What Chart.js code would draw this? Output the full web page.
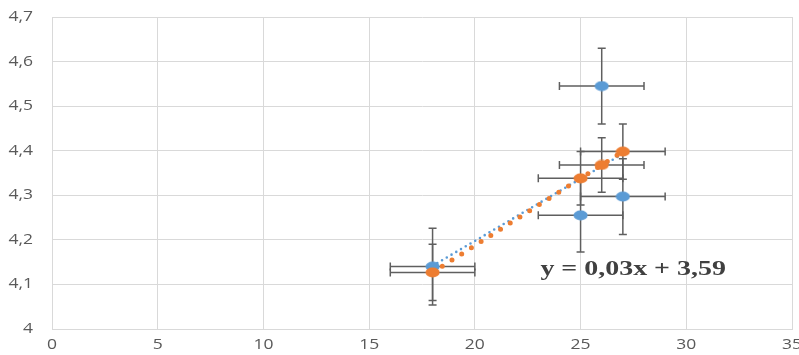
<!DOCTYPE html>
<html>
<head>
<meta charset="utf-8">
<script src="https://cdn.jsdelivr.net/npm/chart.js@4.4.1/dist/chart.umd.min.js"></script>
<style>
  html, body { margin: 0; padding: 0; background: #ffffff; }
  #wrap { width: 799px; height: 355px; position: relative; }
</style>
</head>
<body>
<div id="wrap"><canvas id="c" width="799" height="355"></canvas></div>
<script>
// Measurements: x value, two series of y values, and their error margins
const xValues = [18, 25, 26, 27];
const seriesA = [4.140, 4.255, 4.545, 4.297];   // blue
const seriesB = [4.127, 4.338, 4.368, 4.398];   // orange
const xErr = [2, 2, 2, 2];
const seriesAErr = [0.086, 0.082, 0.085, 0.085];
const seriesBErr = [0.063, 0.060, 0.061, 0.062];

// Axis ticks and their labels
const xTicks = [0, 5, 10, 15, 20, 25, 30, 35];
const xTickLabels = ['0', '5', '10', '15', '20', '25', '30', '35'];
const yTicks = [4, 4.1, 4.2, 4.3, 4.4, 4.5, 4.6, 4.7];
const yTickLabels = ['4', '4,1', '4,2', '4,3', '4,4', '4,5', '4,6', '4,7'];

const equationLabel = 'y = 0,03x + 3,59';

const BLUE = '#5B9BD5';
const ORANGE = '#ED7D31';
const ERR = '#5f5f5f';
const GRID = '#d9d9d9';
const TICK_TEXT = '#595959';
const STRETCH = 1.25;

// Least-squares line through a series, drawn over the range of x
function trend(xs, ys) {
  const n = xs.length;
  const mx = xs.reduce((a, b) => a + b, 0) / n;
  const my = ys.reduce((a, b) => a + b, 0) / n;
  let sxy = 0, sxx = 0;
  for (let i = 0; i < n; i++) { sxy += (xs[i] - mx) * (ys[i] - my); sxx += (xs[i] - mx) ** 2; }
  const k = sxy / sxx, b = my - k * mx;
  const x0 = Math.min(...xs), x1 = Math.max(...xs);
  return [{ x: x0, y: k * x0 + b }, { x: x1, y: k * x1 + b }];
}

// Slightly wide oval marker
function oval(color) {
  const c = document.createElement('canvas');
  c.width = 15; c.height = 11;
  const g = c.getContext('2d');
  g.fillStyle = color;
  g.beginPath();
  g.ellipse(7.5, 5.5, 7, 5, 0, 0, Math.PI * 2);
  g.fill();
  return c;
}

const pts = (ys) => xValues.map((x, i) => ({ x, y: ys[i] }));

// Error bars in both directions, with caps
const errorBars = {
  id: 'errorBars',
  beforeDatasetsDraw(chart) {
    const { ctx, scales: { x, y } } = chart;
    const sets = [[seriesA, seriesAErr], [seriesB, seriesBErr]];
    ctx.save();
    ctx.strokeStyle = ERR;
    ctx.lineWidth = 1.5;
    const cap = 4;
    sets.forEach(([ys, es]) => {
      xValues.forEach((xv, i) => {
        const px = x.getPixelForValue(xv), py = y.getPixelForValue(ys[i]);
        const top = y.getPixelForValue(ys[i] + es[i]);
        const bot = y.getPixelForValue(ys[i] - es[i]);
        const lft = x.getPixelForValue(xv - xErr[i]);
        const rgt = x.getPixelForValue(xv + xErr[i]);
        ctx.beginPath();
        ctx.moveTo(px, top); ctx.lineTo(px, bot);
        ctx.moveTo(px - cap, top); ctx.lineTo(px + cap, top);
        ctx.moveTo(px - cap, bot); ctx.lineTo(px + cap, bot);
        ctx.moveTo(lft, py); ctx.lineTo(rgt, py);
        ctx.moveTo(lft, py - cap); ctx.lineTo(lft, py + cap);
        ctx.moveTo(rgt, py - cap); ctx.lineTo(rgt, py + cap);
        ctx.stroke();
      });
    });
    ctx.restore();
  }
};

function stretchedText(ctx, text, px, py, align, sx) {
  ctx.save();
  ctx.translate(px, py);
  ctx.scale(sx, 1);
  ctx.textAlign = align;
  ctx.fillText(text, 0, 0);
  ctx.restore();
}

// Tick labels and the fitted-line equation
const labels = {
  id: 'labels',
  afterDraw(chart) {
    const { ctx, chartArea, scales: { x, y } } = chart;
    ctx.save();
    ctx.fillStyle = TICK_TEXT;
    ctx.font = '14px "Open Sans", sans-serif';
    ctx.textBaseline = 'middle';
    yTicks.forEach((v, i) => stretchedText(ctx, yTickLabels[i], chartArea.left - 19, y.getPixelForValue(v), 'right', STRETCH));
    xTicks.forEach((v, i) => stretchedText(ctx, xTickLabels[i], x.getPixelForValue(v), chartArea.bottom + 16, 'center', STRETCH));
    ctx.fillStyle = '#404040';
    ctx.font = 'bold 22px "Liberation Serif", "Times New Roman", serif';
    ctx.textBaseline = 'alphabetic';
    stretchedText(ctx, equationLabel, x.getPixelForValue(23.1), y.getPixelForValue(4.121), 'left', 1.27);
    ctx.restore();
  }
};

new Chart(document.getElementById('c'), {
  type: 'scatter',
  data: {
    datasets: [
      { data: pts(seriesB), pointStyle: oval(ORANGE), pointRadius: 6, order: 0 },
      { data: pts(seriesA), pointStyle: oval(BLUE), pointRadius: 6, order: 1 },
      { type: 'line', data: trend(xValues, seriesB), borderColor: ORANGE, borderWidth: 5,
        borderDash: [0, 11.5], borderCapStyle: 'round', pointRadius: 0, fill: false, order: 2 },
      { type: 'line', data: trend(xValues, seriesA), borderColor: BLUE, borderWidth: 2.6,
        borderDash: [0, 5.5], borderCapStyle: 'round', pointRadius: 0, fill: false, order: 3 }
    ]
  },
  options: {
    responsive: false,
    animation: false,
    events: [],
    layout: { padding: { left: 0, right: 7, top: 17, bottom: 0 } },
    plugins: { legend: { display: false }, tooltip: { enabled: false } },
    scales: {
      x: {
        type: 'linear', min: 0, max: 35,
        afterBuildTicks: (s) => { s.ticks = xTicks.map(v => ({ value: v })); },
        afterFit: (s) => { s.height = 26; },
        ticks: { display: false },
        grid: { color: GRID, lineWidth: 1, drawTicks: false },
        border: { color: GRID, width: 1 }
      },
      y: {
        type: 'linear', min: 4, max: 4.7,
        afterBuildTicks: (s) => { s.ticks = yTicks.map(v => ({ value: v })); },
        afterFit: (s) => { s.width = 52; },
        ticks: { display: false },
        grid: { color: GRID, lineWidth: 1, drawTicks: false },
        border: { color: GRID, width: 1 }
      }
    }
  },
  plugins: [errorBars, labels]
});
</script>
</body>
</html>
